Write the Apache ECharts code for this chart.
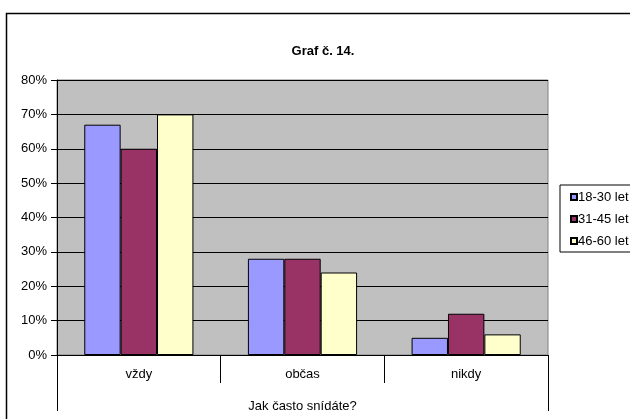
<!DOCTYPE html>
<html><head><meta charset="utf-8">
<script src="https://cdn.jsdelivr.net/npm/echarts@6/dist/echarts.min.js"></script>
<style>html,body{margin:0;padding:0;background:#fff}#c{width:630px;height:419px}</style>
</head><body><div id="c"></div>
<script>
var categories = ['vždy', 'občas', 'nikdy'];
var seriesNames = ['18-30 let', '31-45 let', '46-60 let'];
var s1830 = [67, 28, 5];
var s3145 = [60, 28, 12];
var s4660 = [70, 24, 6];
var colors = ['#9999FF', '#993366', '#FFFFCC'];
var yTicks = [0, 10, 20, 30, 40, 50, 60, 70, 80];

var chart = echarts.init(document.getElementById('c'), null, {renderer: 'canvas'});
var font = 'Arial, "Liberation Sans", sans-serif';
function mk(name, data, color) {
  return {name: name, type: 'bar', data: data, barGap: '0%', barCategoryGap: '33.3%',
    itemStyle: {color: color, borderColor: '#000', borderWidth: 1}};
}
chart.setOption({
  animation: false,
  backgroundColor: '#fff',
  textStyle: {fontFamily: font},
  title: {text: 'Graf č. 14.', left: 318, top: 40, textAlign: 'center',
    textStyle: {fontSize: 13, fontWeight: 'bold', color: '#000', fontFamily: font}},
  grid: {left: 57, right: 82, top: 80, bottom: 64, show: true, backgroundColor: '#C0C0C0', borderColor: '#808080', borderWidth: 1},
  legend: {orient: 'vertical', left: 560, top: 185, data: seriesNames, icon: 'rect',
    itemWidth: 6, itemHeight: 6, itemGap: 8, padding: [5, 20, 4, 10],
    borderColor: '#000', borderWidth: 1, backgroundColor: '#fff',
    textStyle: {fontSize: 13, lineHeight: 14, color: '#000', fontFamily: font, padding: [0, 0, 0, -4]}},
  xAxis: {type: 'category', data: categories, boundaryGap: true,
    name: 'Jak často snídáte?', nameLocation: 'middle', nameGap: 45,
    nameTextStyle: {fontSize: 13, color: '#000', fontFamily: font},
    axisLine: {lineStyle: {color: '#000', width: 1}},
    axisTick: {show: true, interval: 0, length: 28, lineStyle: {color: '#000'}},
    axisLabel: {fontSize: 13, color: '#000', margin: 13, fontFamily: font}},
  yAxis: {type: 'value', min: 0, max: 80, interval: 10,
    axisLine: {show: true, lineStyle: {color: '#000'}},
    axisTick: {show: true, length: 6, lineStyle: {color: '#000'}},
    axisLabel: {formatter: function (v) { return yTicks.indexOf(v) >= 0 ? v + '%' : ''; }, fontSize: 13, color: '#000', margin: 10, fontFamily: font},
    splitLine: {show: true, lineStyle: {color: '#000', width: 1}}},
  series: [mk(seriesNames[0], s1830, colors[0]), mk(seriesNames[1], s3145, colors[1]), mk(seriesNames[2], s4660, colors[2])],
  graphic: [
    {type: 'rect', shape: {x: 6.5, y: 13.5, width: 640, height: 420}, style: {fill: null, stroke: '#000', lineWidth: 1.5}, silent: true, z: 100},
    {type: 'line', shape: {x1: 57.5, y1: 355, x2: 57.5, y2: 411}, style: {stroke: '#000', lineWidth: 1}, z: 100},
    {type: 'line', shape: {x1: 548.5, y1: 355, x2: 548.5, y2: 411}, style: {stroke: '#000', lineWidth: 1}, z: 100}
  ]
});
</script></body></html>
